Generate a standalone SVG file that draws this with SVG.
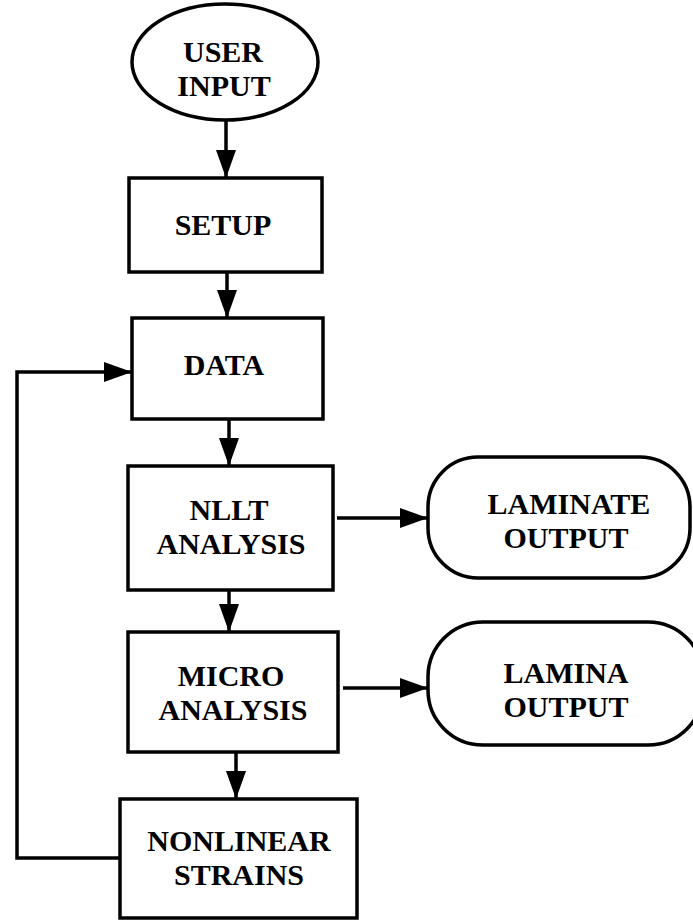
<svg xmlns="http://www.w3.org/2000/svg" width="693" height="921" viewBox="0 0 693 921">
<defs>
<style>
.n{fill:#fff;stroke:#000;stroke-width:3.5}
.t{font-family:"Liberation Serif","Times New Roman",serif;font-weight:bold;font-size:30px;text-anchor:middle;fill:#000}
.c{fill:none;stroke:#000;stroke-width:3.5}
</style>
<marker id="ah" viewBox="0 0 28 20" refX="28" refY="10" markerWidth="28" markerHeight="20" markerUnits="userSpaceOnUse" orient="auto">
<path d="M0,0 L28,10 L0,20 Z" fill="#000"/>
</marker>
</defs>
<rect width="693" height="921" fill="#fff"/>
<g id="connectors">
<path class="c" d="M226,120 V178" marker-end="url(#ah)"/>
<path class="c" d="M227,272 V318" marker-end="url(#ah)"/>
<path class="c" d="M229,419 V466" marker-end="url(#ah)"/>
<path class="c" d="M337,518 H428" marker-end="url(#ah)"/>
<path class="c" d="M229,590 V632" marker-end="url(#ah)"/>
<path class="c" d="M343,688 H428" marker-end="url(#ah)"/>
<path class="c" d="M236,752 V799" marker-end="url(#ah)"/>
<path class="c" d="M120,858 H17 V372 H132" marker-end="url(#ah)"/>
</g>
<g id="user-input">
<ellipse class="n" cx="225" cy="62" rx="93" ry="58"/>
<text class="t" x="223" y="62">USER</text>
<text class="t" x="224" y="96">INPUT</text>
</g>
<g id="setup">
<rect class="n" x="129" y="178" width="193" height="94"/>
<text class="t" x="223" y="235">SETUP</text>
</g>
<g id="data">
<rect class="n" x="132" y="318" width="191" height="101"/>
<text class="t" x="224" y="375">DATA</text>
</g>
<g id="nllt">
<rect class="n" x="128" y="466" width="205" height="124"/>
<text class="t" x="229" y="520">NLLT</text>
<text class="t" x="231" y="554">ANALYSIS</text>
</g>
<g id="laminate-output">
<rect class="n" x="428" y="457" width="262" height="121" rx="50"/>
<text class="t" x="569" y="514">LAMINATE</text>
<text class="t" x="566" y="548">OUTPUT</text>
</g>
<g id="micro">
<rect class="n" x="128" y="632" width="210" height="120"/>
<text class="t" x="231" y="686">MICRO</text>
<text class="t" x="233" y="720">ANALYSIS</text>
</g>
<g id="lamina-output">
<rect class="n" x="428" y="622" width="275" height="123" rx="55"/>
<text class="t" x="566" y="683">LAMINA</text>
<text class="t" x="566" y="717">OUTPUT</text>
</g>
<g id="nonlinear">
<rect class="n" x="120" y="799" width="237" height="119"/>
<text class="t" x="239" y="851">NONLINEAR</text>
<text class="t" x="239" y="885">STRAINS</text>
</g>
</svg>
